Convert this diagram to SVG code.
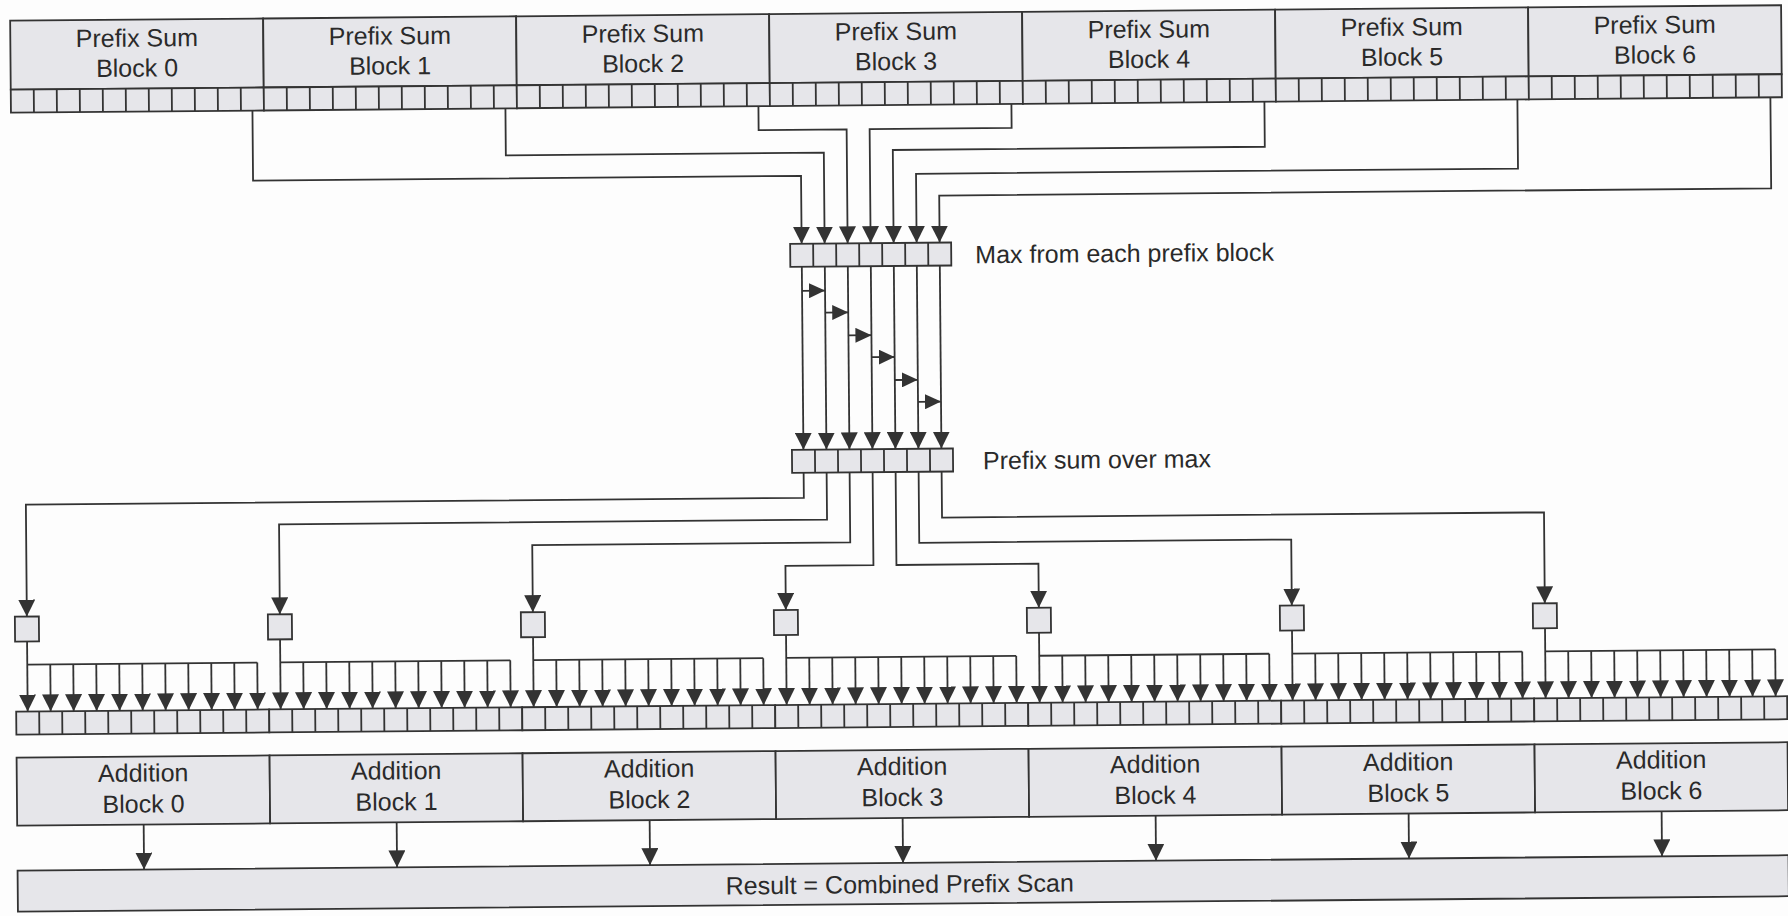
<svg xmlns="http://www.w3.org/2000/svg" xmlns:xlink="http://www.w3.org/1999/xlink" width="1788" height="916" viewBox="0 0 1788 916">
<style>
.box{fill:#e6e6ea;stroke:#333;stroke-width:1.8}
.ln{fill:none;stroke:#333;stroke-width:1.8}
.arr{fill:none;stroke:#333;stroke-width:1.8;marker-end:url(#ah)}
.sarr{fill:none;stroke:#333;stroke-width:1.8;marker-end:url(#sah)}
.lbl{font-family:"Liberation Sans",Arial,sans-serif;font-size:25px;fill:#2a2a2a;text-anchor:middle}
.side{font-family:"Liberation Sans",Arial,sans-serif;font-size:25px;fill:#2a2a2a}
</style>
<defs>
<marker id="ah" viewBox="0 0 17 17" refX="17" refY="8.5" markerWidth="17" markerHeight="17" markerUnits="userSpaceOnUse" orient="auto"><path d="M0,0 L17,8.5 L0,17 Z" fill="#333"/></marker>
<marker id="sah" viewBox="0 0 16 15" refX="16" refY="7.5" markerWidth="16" markerHeight="15" markerUnits="userSpaceOnUse" orient="auto"><path d="M0,0 L16,7.5 L0,15 Z" fill="#333"/></marker>
<g id="cellrow"><rect x="0" y="0" width="253" height="23" class="box"/><path class="ln" d="M23,0v23M46,0v23M69,0v23M92,0v23M115,0v23M138,0v23M161,0v23M184,0v23M207,0v23M230,0v23"/></g>
<g id="fan">
<path class="arr" d="M0,634V704"/>
<path class="ln" d="M0,657H230"/>
<path class="arr" d="M23,657V704"/><path class="arr" d="M46,657V704"/><path class="arr" d="M69,657V704"/><path class="arr" d="M92,657V704"/><path class="arr" d="M115,657V704"/><path class="arr" d="M138,657V704"/><path class="arr" d="M161,657V704"/><path class="arr" d="M184,657V704"/><path class="arr" d="M207,657V704"/><path class="arr" d="M230,657V704"/>
</g>
</defs>
<rect x="0" y="0" width="1788" height="916" fill="#fdfdfd"/>
<g transform="rotate(-0.5 894 458)">
<g id="prefix-sum-blocks">
<g id="psb0"><rect x="14" y="13" width="253" height="69" class="box"/><text class="lbl" x="140.5" y="40">Prefix Sum</text><text class="lbl" x="140.5" y="70">Block 0</text><use xlink:href="#cellrow" x="14" y="82"/></g>
<g id="psb1"><rect x="267" y="13" width="253" height="69" class="box"/><text class="lbl" x="393.5" y="40">Prefix Sum</text><text class="lbl" x="393.5" y="70">Block 1</text><use xlink:href="#cellrow" x="267" y="82"/></g>
<g id="psb2"><rect x="520" y="13" width="253" height="69" class="box"/><text class="lbl" x="646.5" y="40">Prefix Sum</text><text class="lbl" x="646.5" y="70">Block 2</text><use xlink:href="#cellrow" x="520" y="82"/></g>
<g id="psb3"><rect x="773" y="13" width="253" height="69" class="box"/><text class="lbl" x="899.5" y="40">Prefix Sum</text><text class="lbl" x="899.5" y="70">Block 3</text><use xlink:href="#cellrow" x="773" y="82"/></g>
<g id="psb4"><rect x="1026" y="13" width="253" height="69" class="box"/><text class="lbl" x="1152.5" y="40">Prefix Sum</text><text class="lbl" x="1152.5" y="70">Block 4</text><use xlink:href="#cellrow" x="1026" y="82"/></g>
<g id="psb5"><rect x="1279" y="13" width="253" height="69" class="box"/><text class="lbl" x="1405.5" y="40">Prefix Sum</text><text class="lbl" x="1405.5" y="70">Block 5</text><use xlink:href="#cellrow" x="1279" y="82"/></g>
<g id="psb6"><rect x="1532" y="13" width="253" height="69" class="box"/><text class="lbl" x="1658.5" y="40">Prefix Sum</text><text class="lbl" x="1658.5" y="70">Block 6</text><use xlink:href="#cellrow" x="1532" y="82"/></g>
</g>
<g id="max-box"><rect x="792" y="243" width="161" height="23" class="box"/><path class="ln" d="M815,243v23M838,243v23M861,243v23M884,243v23M907,243v23M930,243v23"/><text class="side" x="977" y="264">Max from each prefix block</text></g>
<g id="prefix-max-box"><rect x="792" y="449" width="161" height="23" class="box"/><path class="ln" d="M815,449v23M838,449v23M861,449v23M884,449v23M907,449v23M930,449v23"/><text class="side" x="983" y="470">Prefix sum over max</text></g>
<g id="offset-boxes">
<rect id="ob0" x="13.5" y="609" width="24" height="25" class="box"/>
<rect id="ob1" x="266.5" y="609" width="24" height="25" class="box"/>
<rect id="ob2" x="519.5" y="609" width="24" height="25" class="box"/>
<rect id="ob3" x="772.5" y="609" width="24" height="25" class="box"/>
<rect id="ob4" x="1025.5" y="609" width="24" height="25" class="box"/>
<rect id="ob5" x="1278.5" y="609" width="24" height="25" class="box"/>
<rect id="ob6" x="1531.5" y="609" width="24" height="25" class="box"/>
</g>
<g id="output-cells">
<use xlink:href="#cellrow" x="14" y="704"/><use xlink:href="#cellrow" x="267" y="704"/><use xlink:href="#cellrow" x="520" y="704"/><use xlink:href="#cellrow" x="773" y="704"/><use xlink:href="#cellrow" x="1026" y="704"/><use xlink:href="#cellrow" x="1279" y="704"/><use xlink:href="#cellrow" x="1532" y="704"/>
</g>
<g id="addition-blocks">
<g id="ab0"><rect x="14" y="750" width="253" height="68" class="box"/><text class="lbl" x="140.5" y="775">Addition</text><text class="lbl" x="140.5" y="806">Block 0</text></g>
<g id="ab1"><rect x="267" y="750" width="253" height="68" class="box"/><text class="lbl" x="393.5" y="775">Addition</text><text class="lbl" x="393.5" y="806">Block 1</text></g>
<g id="ab2"><rect x="520" y="750" width="253" height="68" class="box"/><text class="lbl" x="646.5" y="775">Addition</text><text class="lbl" x="646.5" y="806">Block 2</text></g>
<g id="ab3"><rect x="773" y="750" width="253" height="68" class="box"/><text class="lbl" x="899.5" y="775">Addition</text><text class="lbl" x="899.5" y="806">Block 3</text></g>
<g id="ab4"><rect x="1026" y="750" width="253" height="68" class="box"/><text class="lbl" x="1152.5" y="775">Addition</text><text class="lbl" x="1152.5" y="806">Block 4</text></g>
<g id="ab5"><rect x="1279" y="750" width="253" height="68" class="box"/><text class="lbl" x="1405.5" y="775">Addition</text><text class="lbl" x="1405.5" y="806">Block 5</text></g>
<g id="ab6"><rect x="1532" y="750" width="253" height="68" class="box"/><text class="lbl" x="1658.5" y="775">Addition</text><text class="lbl" x="1658.5" y="806">Block 6</text></g>
</g>
<g id="result"><rect x="14" y="863" width="1771" height="41" class="box"/><text class="lbl" x="896" y="893">Result = Combined Prefix Scan</text></g>
<g id="connectors">
<path class="arr" d="M255.5,105V175H803.5V243"/>
<path class="arr" d="M508.5,105V152H826.5V243"/>
<path class="arr" d="M761.5,105V129H849.5V243"/>
<path class="arr" d="M1014.5,105V129H872.5V243"/>
<path class="arr" d="M1267.5,105V150H895.5V243"/>
<path class="arr" d="M1520.5,105V174H918.5V243"/>
<path class="arr" d="M1773.5,105V196H941.5V243"/>
<path class="arr" d="M803.5,266V449"/><path class="arr" d="M826.5,266V449"/><path class="arr" d="M849.5,266V449"/><path class="arr" d="M872.5,266V449"/><path class="arr" d="M895.5,266V449"/><path class="arr" d="M918.5,266V449"/><path class="arr" d="M941.5,266V449"/>
<path class="sarr" d="M803.5,290H826.5"/>
<path class="sarr" d="M826.5,312H849.5"/>
<path class="sarr" d="M849.5,335H872.5"/>
<path class="sarr" d="M872.5,357H895.5"/>
<path class="sarr" d="M895.5,380H918.5"/>
<path class="sarr" d="M918.5,402H941.5"/>
<path class="arr" d="M803.5,472V497H25.5V609"/>
<path class="arr" d="M826.5,472V519H278.5V609"/>
<path class="arr" d="M849.5,472V542H531.5V609"/>
<path class="arr" d="M872.5,472V565H784.5V609"/>
<path class="arr" d="M895.5,472V565H1037.5V609"/>
<path class="arr" d="M918.5,472V543H1290.5V609"/>
<path class="arr" d="M941.5,472V518H1543.5V609"/>
<use xlink:href="#fan" x="25.5"/><use xlink:href="#fan" x="278.5"/><use xlink:href="#fan" x="531.5"/><use xlink:href="#fan" x="784.5"/><use xlink:href="#fan" x="1037.5"/><use xlink:href="#fan" x="1290.5"/><use xlink:href="#fan" x="1543.5"/>
<path class="arr" d="M140.5,818V863"/><path class="arr" d="M393.5,818V863"/><path class="arr" d="M646.5,818V863"/><path class="arr" d="M899.5,818V863"/><path class="arr" d="M1152.5,818V863"/><path class="arr" d="M1405.5,818V863"/><path class="arr" d="M1658.5,818V863"/>
</g>
</g>
</svg>
